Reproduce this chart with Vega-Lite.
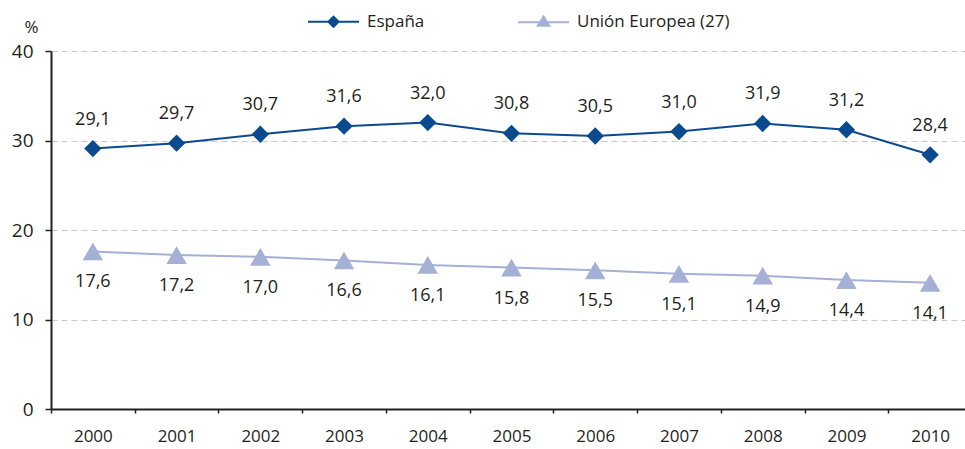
{
  "$schema": "https://vega.github.io/schema/vega-lite/v6.json",
  "width": 914,
  "height": 358,
  "autosize": {"type": "none"},
  "padding": {"left": 51, "top": 51, "right": 0, "bottom": 40},
  "background": "white",
  "config": {
    "font": "Open Sans",
    "view": {"stroke": null},
    "locale": {"number": {"decimal": ",", "thousands": ".", "grouping": [3], "currency": ["", " €"]}}
  },
  "data": {
    "values": [
      {"year": "2000", "serie": "España", "value": 29.1},
      {"year": "2001", "serie": "España", "value": 29.7},
      {"year": "2002", "serie": "España", "value": 30.7},
      {"year": "2003", "serie": "España", "value": 31.6},
      {"year": "2004", "serie": "España", "value": 32.0},
      {"year": "2005", "serie": "España", "value": 30.8},
      {"year": "2006", "serie": "España", "value": 30.5},
      {"year": "2007", "serie": "España", "value": 31.0},
      {"year": "2008", "serie": "España", "value": 31.9},
      {"year": "2009", "serie": "España", "value": 31.2},
      {"year": "2010", "serie": "España", "value": 28.4},
      {"year": "2000", "serie": "Unión Europea (27)", "value": 17.6},
      {"year": "2001", "serie": "Unión Europea (27)", "value": 17.2},
      {"year": "2002", "serie": "Unión Europea (27)", "value": 17.0},
      {"year": "2003", "serie": "Unión Europea (27)", "value": 16.6},
      {"year": "2004", "serie": "Unión Europea (27)", "value": 16.1},
      {"year": "2005", "serie": "Unión Europea (27)", "value": 15.8},
      {"year": "2006", "serie": "Unión Europea (27)", "value": 15.5},
      {"year": "2007", "serie": "Unión Europea (27)", "value": 15.1},
      {"year": "2008", "serie": "Unión Europea (27)", "value": 14.9},
      {"year": "2009", "serie": "Unión Europea (27)", "value": 14.4},
      {"year": "2010", "serie": "Unión Europea (27)", "value": 14.1}
    ]
  },
  "encoding": {
    "x": {
      "field": "year", "type": "ordinal",
      "scale": {"type": "band", "paddingInner": 0, "paddingOuter": 0, "range": [0, 921]},
      "axis": {
        "title": null, "labelAngle": 0, "tickBand": "extent",
        "domainColor": "#231F20", "domainWidth": 2, "tickColor": "#231F20", "tickSize": 4, "tickWidth": 1.5,
        "labelFontSize": 17, "labelColor": "#231F20", "labelPadding": 15, "grid": false
      }
    },
    "y": {
      "field": "value", "type": "quantitative",
      "scale": {"domain": [0, 40], "nice": false},
      "axis": {
        "values": [0, 10, 20, 30, 40],
        "title": "%", "titleAngle": 0, "titleX": -20, "titleY": -24, "titleBaseline": "middle", "titleFontSize": 17, "titleFontWeight": "normal", "titleColor": "#231F20", "titleAlign": "center",
        "domainColor": "#231F20", "domainWidth": 2, "tickColor": "#231F20", "tickSize": 6, "tickWidth": 1.5,
        "labelFontSize": 19, "labelColor": "#231F20", "labelPadding": 12,
        "grid": true, "gridColor": "#C8C8C8", "gridDash": [6, 4], "gridWidth": 1.2
      }
    }
  },
  "layer": [
    {
      "mark": {"type": "line", "strokeWidth": 2},
      "encoding": {
        "color": {
          "field": "serie", "type": "nominal",
          "scale": {"domain": ["España", "Unión Europea (27)"], "range": ["#0B4A8E", "#A5B0D6"]},
          "legend": {
            "orient": "none", "direction": "horizontal", "legendX": 256, "legendY": -56,
            "title": null, "symbolSize": 2601, "labelFontSize": 17, "labelColor": "#231F20",
            "labelOffset": 7, "columnPadding": 89,
            "encode": {
              "symbols": {
                "update": {
                  "shape": {"signal": "datum.value == 'España' ? 'M-1,0H1M0,-0.2L0.2,0L0,0.2L-0.2,0Z' : 'M-1,0H1M0,-0.22L0.22,0.14L-0.22,0.14Z'"},
                  "fill": {"signal": "datum.value == 'España' ? '#0B4A8E' : '#A5B0D6'"},
                  "stroke": {"signal": "datum.value == 'España' ? '#0B4A8E' : '#A5B0D6'"},
                  "strokeWidth": {"value": 2},
                  "opacity": {"value": 1},
                  "fillOpacity": {"value": 1}
                }
              }
            }
          }
        }
      }
    },
    {
      "transform": [{"filter": "datum.serie == 'España'"}],
      "mark": {"type": "point", "filled": true, "opacity": 1, "shape": "diamond", "size": 300, "color": "#0B4A8E"}
    },
    {
      "transform": [{"filter": "datum.serie != 'España'"}],
      "mark": {"type": "point", "filled": true, "opacity": 1, "shape": "triangle-up", "size": 420, "color": "#A5B0D6"}
    },
    {
      "transform": [{"filter": "datum.serie == 'España'"}],
      "mark": {"type": "text", "dy": -29, "fontSize": 18, "color": "#231F20", "baseline": "middle"},
      "encoding": {"text": {"field": "value", "type": "quantitative", "format": ".1f"}}
    },
    {
      "transform": [{"filter": "datum.serie != 'España'"}],
      "mark": {"type": "text", "dy": 31, "fontSize": 18, "color": "#231F20", "baseline": "middle"},
      "encoding": {"text": {"field": "value", "type": "quantitative", "format": ".1f"}}
    }
  ]
}
